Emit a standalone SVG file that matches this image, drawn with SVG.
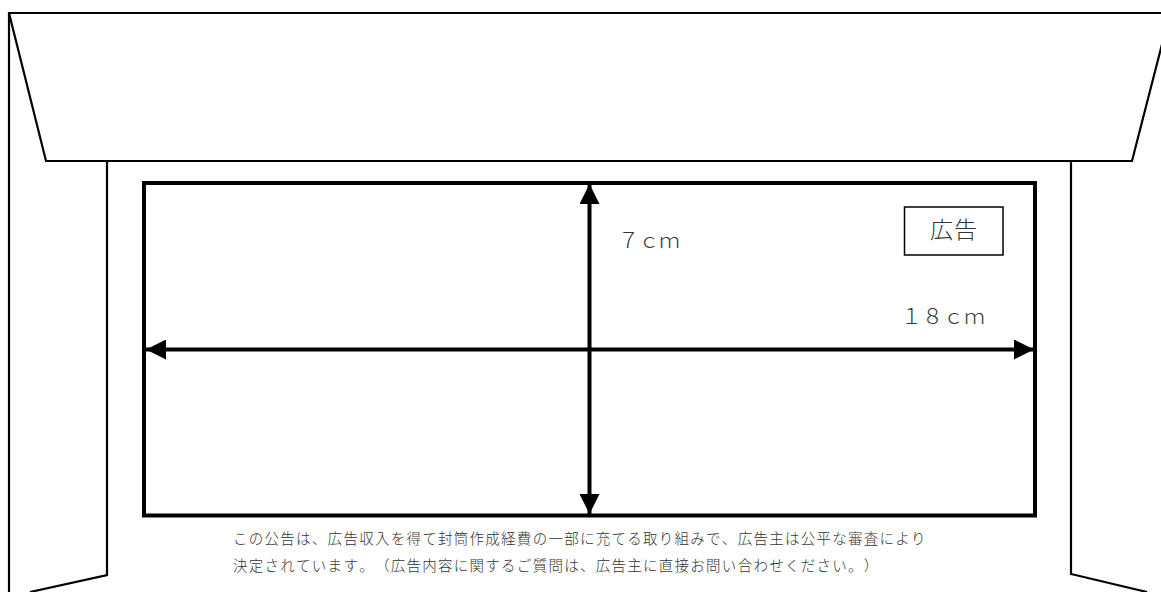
<svg xmlns="http://www.w3.org/2000/svg" width="1161" height="592" viewBox="0 0 1161 592">
<style>
.l{fill:none;stroke:#000;stroke-width:2.200}
.h{fill:none;stroke:#000;stroke-width:4}
.t{font-family:"Noto Sans CJK JP","Noto Sans CJK SC",sans-serif;font-weight:300;fill:#333;text-spacing-trim:space-all;font-feature-settings:"chws" 0,"palt" 0,"kern" 0}
.c{font-size:14.500px;letter-spacing:1.270px}
</style>
<defs>
<marker id="a" markerUnits="userSpaceOnUse" markerWidth="20" markerHeight="20" refX="20" refY="10" orient="auto-start-reverse"><path d="M0 0L20 10L0 20Z" fill="#000"/></marker>
</defs>
<rect width="1161" height="592" fill="#fff"/>
<g id="envelope">
<path class="l" d="M9 592V13H1161"/>
<path class="l" d="M9 13L46 161H1132L1170 13"/>
<path class="l" d="M107 161V575L30 592"/>
<path class="l" d="M1071 161V574L1147 592"/>
</g>
<g id="ad-area"><rect class="h" x="144" y="183" width="891" height="332.500"/></g>
<g id="connectors">
<path class="h" d="M146 349.500H1034" marker-start="url(#a)" marker-end="url(#a)"/>
<path class="h" d="M589.500 184V514" marker-start="url(#a)" marker-end="url(#a)"/>
</g>
<g id="ad-label"><rect x="904.500" y="207" width="98.500" height="48" fill="none" stroke="#000" stroke-width="1.500"/>
<text class="t" x="930" y="238" font-size="23" letter-spacing="1">広告</text></g>
<g id="height-label"><text class="t" x="618" y="248" font-size="21" letter-spacing="-0.500">７ｃｍ</text></g>
<g id="width-label"><text class="t" x="901" y="324" font-size="21">１８ｃｍ</text></g>
<g id="caption">
<text class="t c" x="233" y="544">この公告は、広告収入を得て封筒作成経費の一部に充てる取り組みで、広告主は公平な審査により</text>
<text class="t c" x="233" y="571">決定されています。（広告内容に関するご質問は、広告主に直接お問い合わせください。）</text>
</g>
</svg>
